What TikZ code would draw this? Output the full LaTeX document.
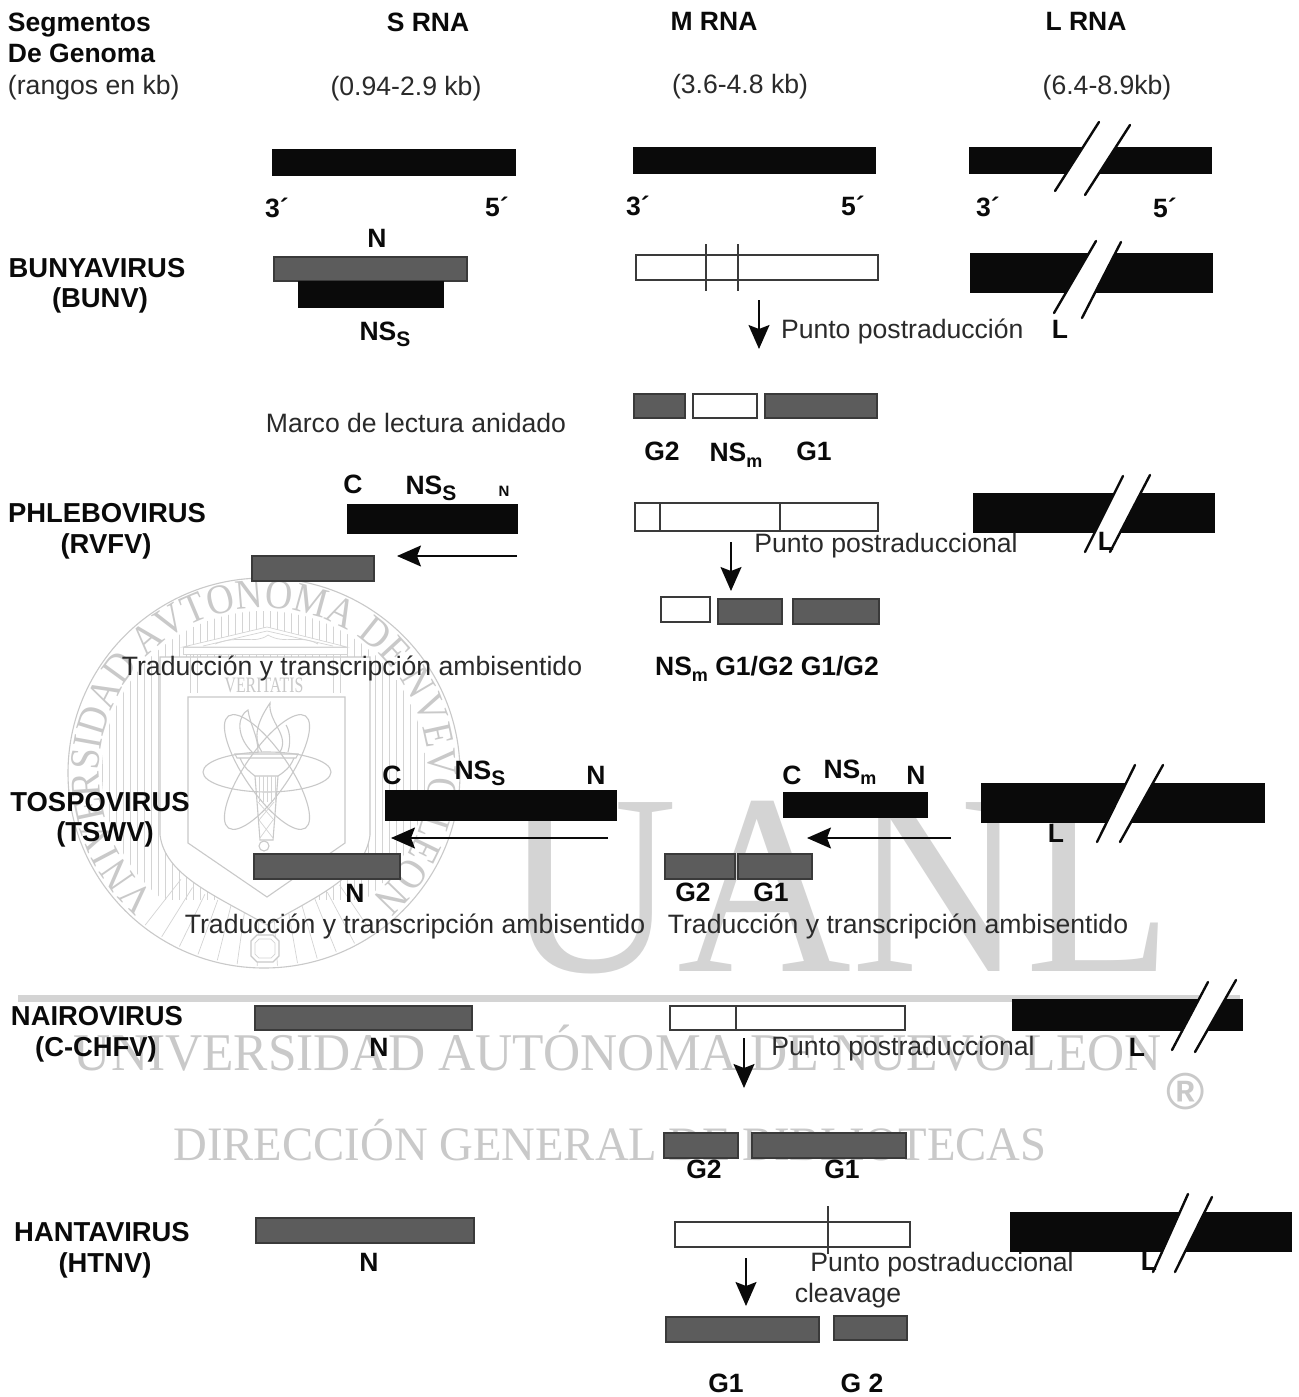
\documentclass[tikz,border=0pt]{standalone}
\usepackage{fontspec}
\setmainfont{Liberation Sans}
\newfontfamily\wmserif{Liberation Serif}
\newfontfamily\wmring[FakeStretch=0.90]{Liberation Serif}
\newfontfamily\wmbig[FakeStretch=0.935]{Liberation Serif}
\newfontfamily\wmuni[FakeStretch=0.97]{Liberation Serif}
\newfontfamily\wmdir[FakeStretch=0.973]{Liberation Serif}
\newfontfamily\wmtall[FakeStretch=0.72]{Liberation Serif}
\usetikzlibrary{arrows.meta,decorations.text}
\definecolor{wmgray}{HTML}{C9C9C9}
\definecolor{wmlight}{HTML}{D4D4D4}
\definecolor{barblack}{HTML}{0A0A0A}
\definecolor{bargray}{HTML}{5C5C5C}
\definecolor{edgegray}{HTML}{3A3A3A}
\definecolor{inkgray}{HTML}{2A2A2A}
\tikzset{
  blackbar/.style={draw=barblack,fill=barblack,line width=0.8pt},
  graybar/.style={draw=edgegray,fill=bargray,line width=1.4pt},
  whitebar/.style={draw=edgegray,fill=white,line width=1.5pt},
  txt/.style={inner sep=0pt,outer sep=0pt,text=inkgray,text height=19pt,text depth=0pt,font=\fontsize{26.6}{30}\selectfont},
  btxt/.style={txt,text=barblack,font=\fontsize{26.5}{30}\selectfont\bfseries},
  vtxt/.style={txt,text=barblack,font=\fontsize{27.4}{30}\selectfont\bfseries},
  arr/.style={draw=barblack,line width=1.6pt,-{Stealth[length=24pt,width=21pt,inset=4pt]}},
  tick/.style={draw=edgegray,line width=1.4pt},
  slash/.style={draw=barblack,line width=2.4pt,line cap=round},
  wmline/.style={draw=wmgray,line width=1.1pt},
  wmthin/.style={draw=wmlight,line width=0.7pt},
  wmtext/.style={inner sep=0pt,outer sep=0pt,text=wmgray},
}
\newcommand{\bx}[6]{\node[#2,inner sep=0pt,outer sep=0pt,anchor=north west,minimum width={(#5-#3)*1pt},minimum height={(#6-#4)*1pt}] (#1) at (#3,#4) {};}
\newcommand{\lab}[4]{\node[txt] (#1) at (#2,#3) {#4};}
\newcommand{\blab}[4]{\node[btxt] (#1) at (#2,#3) {#4};}
\newcommand{\vlab}[4]{\node[vtxt] (#1) at (#2,#3) {#4};}
\newcommand{\leftlab}[5]{\node[#5,anchor=west] (#1) at (#2,#3) {#4};}
% break mark: two parallel strokes with white between
\newcommand{\brk}[8]{\fill[white] (#1,#2) -- (#3,#4) -- (#7,#8) -- (#5,#6) -- cycle;
  \draw[slash] (#1,#2) -- (#3,#4); \draw[slash] (#5,#6) -- (#7,#8);}
\newcommand{\subS}{\raisebox{-6pt}{\fontsize{21}{21}\selectfont S}}
\newcommand{\subm}{\raisebox{-6pt}{\fontsize{18}{18}\selectfont m}}
\begin{document}
\begin{tikzpicture}[x=1pt,y=-1pt]
\useasboundingbox (0,0) rectangle (1298,1397);
\fill[white] (0,0) rectangle (1298,1397);
% ---------- watermark: seal ----------
\begin{scope}
  \clip (102,600) rectangle (428,900);
  \clip (264,773) ellipse [x radius=162,y radius=162];
  \foreach \hx in {102,109,...,430} {\draw[wmthin] (\hx,600) -- (\hx,900);}
\end{scope}
\begin{scope}[shift={(264,773)},y=1pt]
  \foreach \ra in {232,238,...,308} {\draw[wmthin] (\ra:135pt) -- (\ra:193pt);}
\end{scope}
% outer shield
\filldraw[wmline,fill=white] (160,657) -- (370,657) -- (370,835) .. controls (365,875) and (320,895) .. (267,925) .. controls (214,895) and (165,875) .. (160,835) -- cycle;
% inner shield
\filldraw[wmline,fill=white] (188,697) -- (345,697) -- (345,843) -- (267,897) -- (188,843) -- cycle;
\draw[wmline] (264,773) ellipse [x radius=196,y radius=195];
\begin{scope}[shift={(264,773)},y=1pt]
  \path[decorate,decoration={text along path,text align=center,text={|\wmring\fontsize{42}{42}\selectfont\color{wmgray}|VNIVERSIDAD AVTONOMA DE NVEVO LEON}}]
    (236:165pt) arc[start angle=236,end angle=-56,radius=165pt];
\end{scope}
% temple
\filldraw[wmthin,fill=white] (183,647) -- (267,627) -- (347,647) -- cycle;
\draw[wmthin] (203,646) -- (267,631) -- (333,646);
\draw[wmthin] (215,644) .. controls (240,634) and (255,645) .. (268,635) .. controls (285,645) and (300,634) .. (318,644);
\filldraw[wmthin,fill=white] (183,647) rectangle (347,654);
\draw[wmthin] (190,654) -- (190,693); \draw[wmthin] (197,654) -- (197,693);
\draw[wmthin] (333,654) -- (333,693); \draw[wmthin] (340,654) -- (340,693);
\node[wmtext,font=\wmtall\fontsize{22}{22}\selectfont] (wmver) at (264,685) {VERITATIS};
% atom and torch
\foreach \ang/\rx/\ry in {0/64/20,55.5/68/22,-55.5/68/22} {\draw[wmline,rotate around={\ang:(267,772)}] (267,772) ellipse [x radius=\rx,y radius=\ry];}
\draw[wmline] (235,754) -- (298,754) -- (296,758) -- (237,758) -- cycle;
\draw[wmline] (240,758) .. controls (244,768) and (250,772) .. (255,776);
\draw[wmline] (294,758) .. controls (290,768) and (284,772) .. (278,776);
\draw[wmline] (255,776) -- (278,776) -- (273,840) -- (260,840) -- cycle;
\foreach \tx in {259,263,267,271,275} {\draw[wmthin] (\tx,776) -- (\tx,802);}
\draw[wmthin] (258,802) -- (274,820); \draw[wmthin] (274,802) -- (259,820);
\draw[wmthin] (259,820) -- (273,838); \draw[wmthin] (273,820) -- (260,838);
\draw[wmline] (264,846) circle [radius=5];
\draw[wmline] (262,752) .. controls (250,735) and (262,715) .. (270,703) .. controls (268,722) and (290,735) .. (280,752);
\draw[wmline] (252,752) .. controls (235,735) and (238,715) .. (248,710) .. controls (250,725) and (258,735) .. (258,752);
\draw[wmline] (288,752) .. controls (292,738) and (288,728) .. (286,725);
% octagon
\filldraw[wmline,fill=white] (257,935) -- (273,935) -- (279,941) -- (279,956) -- (273,962) -- (257,962) -- (251,956) -- (251,941) -- cycle;
\draw[wmthin] (259,939) -- (271,939) -- (275,943) -- (275,954) -- (271,958) -- (259,958) -- (255,954) -- (255,943) -- cycle;
% ---------- watermark: big letters ----------
\node[wmtext,text=wmlight,font=\wmbig\fontsize{258}{258}\selectfont,anchor=base] (wmuanl) at (838,971) {UANL};
\draw[draw=wmlight,line width=7pt] (18,998) -- (1240,998);
\node[wmtext,font=\wmuni\fontsize{53}{53}\selectfont,anchor=base] (wmunil) at (618,1070) {UNIVERSIDAD AUTÓNOMA DE NUEVO LEON};
\node[wmtext,font=\wmdir\fontsize{48}{48}\selectfont,anchor=base] (wmdirl) at (610,1160) {DIRECCIÓN GENERAL DE BIBLIOTECAS};
\node[wmtext,font=\fontsize{52}{52}\selectfont\bfseries] (wmreg) at (1186,1092) {®};

% ---------- headers ----------
\leftlab{h1}{8}{22}{Segmentos}{btxt}
\leftlab{h2}{8}{53}{De Genoma}{btxt}
\leftlab{h3}{8}{85}{(rangos en kb)}{txt}
\blab{hs}{428}{22}{S RNA}
\blab{hm}{714}{21}{M RNA}
\blab{hl}{1086}{21}{L RNA}
\lab{rs}{406}{86}{(0.94-2.9 kb)}
\lab{rm}{740}{84}{(3.6-4.8 kb)}
\lab{rl}{1107}{85}{(6.4-8.9kb)}
% ---------- genome bars ----------
\bx{gs}{blackbar}{272}{149}{515}{175}
\bx{gm}{blackbar}{633}{147}{875}{173}
\bx{gl}{blackbar}{969}{147}{1211}{173}
\brk{1055}{191}{1099}{122}{1085}{195}{1130}{125}
\blab{e1}{277}{208}{3´}
\blab{e2}{497}{207}{5´}
\blab{e3}{638}{206}{3´}
\blab{e4}{853}{206}{5´}
\blab{e5}{988}{207}{3´}
\blab{e6}{1165}{208}{5´}
% ---------- Bunyavirus ----------
\vlab{bu1}{97}{268}{BUNYAVIRUS}
\vlab{bu2}{100}{298}{(BUNV)}
\blab{buN}{377}{238}{N}
\bx{bun}{graybar}{274}{257}{467}{281}
\bx{bus}{blackbar}{298}{281}{443}{307}
\blab{buNS}{385}{331}{NS\subS}
\bx{bum}{whitebar}{636}{255}{878}{280}
\draw[tick] (706,244) -- (706,291);
\draw[tick] (738,244) -- (738,291);
\bx{bul}{blackbar}{970}{253}{1212}{292}
\brk{1054}{313}{1096}{241}{1082}{318}{1121}{242}
\coordinate (buaS) at (759,300); \coordinate (buaE) at (759,349);
\draw[arr] (buaS) -- (buaE);
\leftlab{buP}{781}{329}{Punto postraducción}{txt}
\blab{buL}{1060}{329}{L}
\bx{bug2}{graybar}{634}{394}{685}{418}
\bx{bunm}{whitebar}{693}{394}{757}{418}
\bx{bug1}{graybar}{765}{394}{877}{418}
\lab{marco}{416}{423}{Marco de lectura anidado}
\blab{bul2}{662}{451}{G2}
\blab{bul3}{736}{452}{NS\subm}
\blab{bul1}{814}{451}{G1}
% ---------- Phlebovirus ----------
\vlab{ph1}{107}{513}{PHLEBOVIRUS}
\vlab{ph2}{106}{544}{(RVFV)}
\blab{phC}{353}{484}{C}
\blab{phNS}{431}{485}{NS\subS}
\node[btxt,font=\fontsize{15}{15}\selectfont\bfseries,text height=11pt] (phN) at (504,491) {N};
\bx{phs}{blackbar}{347}{504}{517}{533}
\bx{phg}{graybar}{252}{556}{374}{581}
\coordinate (phaS) at (517,556); \coordinate (phaE) at (397,556);
\draw[arr] (phaS) -- (phaE);
\bx{phm}{whitebar}{635}{503}{878}{531}
\draw[tick] (660,503) -- (660,531);
\draw[tick] (780,503) -- (780,531);
\bx{phl}{blackbar}{973}{493}{1214}{532}
\brk{1085}{552}{1123}{476}{1110}{552}{1150}{475}
\blab{phL}{1106}{541}{L}
\lab{phP}{886}{543}{Punto postraduccional}
\coordinate (phbS) at (731,542); \coordinate (phbE) at (731,591);
\draw[arr] (phbS) -- (phbE);
\bx{phw}{whitebar}{661}{597}{710}{622}
\bx{phg1}{graybar}{718}{599}{782}{624}
\bx{phg2}{graybar}{793}{599}{879}{624}
\lab{phT}{352}{666}{Traducción y transcripción ambisentido}
\blab{phB}{767}{666}{NS\subm{} G1/G2 G1/G2}
% ---------- Tospovirus ----------
\vlab{to1}{100}{802}{TOSPOVIRUS}
\vlab{to2}{105}{832}{(TSWV)}
\blab{toC}{392}{775}{C}
\blab{toNS}{480}{770}{NS\subS}
\blab{toN}{596}{775}{N}
\bx{tos}{blackbar}{385}{790}{616}{820}
\coordinate (toaS) at (608,838); \coordinate (toaE) at (391,838);
\draw[arr] (toaS) -- (toaE);
\bx{tog}{graybar}{254}{854}{400}{879}
\blab{toN2}{355}{893}{N}
\blab{toC2}{792}{775}{C}
\blab{toNS2}{850}{769}{NS\subm}
\blab{toN3}{916}{775}{N}
\bx{tom}{blackbar}{783}{792}{927}{817}
\coordinate (tobS) at (951,838); \coordinate (tobE) at (807,838);
\draw[arr] (tobS) -- (tobE);
\bx{tog2}{graybar}{665}{854}{735}{879}
\bx{tog1}{graybar}{738}{854}{812}{879}
\blab{toG2}{693}{892}{G2}
\blab{toG1}{771}{892}{G1}
\bx{tol}{blackbar}{981}{783}{1264}{822}
\brk{1097}{842}{1135}{765}{1120}{842}{1163}{765}
\blab{toL}{1056}{833}{L}
\lab{toT1}{415}{924}{Traducción y transcripción ambisentido}
\lab{toT2}{898}{924}{Traducción y transcripción ambisentido}
% ---------- Nairovirus ----------
\vlab{na1}{97}{1016}{NAIROVIRUS}
\vlab{na2}{96}{1047}{(C-CHFV)}
\bx{nag}{graybar}{255}{1006}{472}{1030}
\blab{naN}{379}{1047}{N}
\bx{nam}{whitebar}{670}{1006}{905}{1030}
\draw[tick] (736,1006) -- (736,1030);
\bx{nal}{blackbar}{1012}{999}{1242}{1030}
\brk{1172}{1050}{1208}{982}{1195}{1052}{1236}{980}
\lab{naP}{903}{1046}{Punto postraduccional}
\blab{naL}{1137}{1047}{L}
\coordinate (naaS) at (744,1038); \coordinate (naaE) at (744,1088);
\draw[arr] (naaS) -- (naaE);
\bx{nag2}{graybar}{664}{1133}{738}{1158}
\bx{nag1}{graybar}{752}{1133}{906}{1158}
\blab{naG2}{704}{1169}{G2}
\blab{naG1}{842}{1169}{G1}
% ---------- Hantavirus ----------
\vlab{ha1}{102}{1232}{HANTAVIRUS}
\vlab{ha2}{105}{1263}{(HTNV)}
\bx{hag}{graybar}{256}{1218}{474}{1243}
\blab{haN}{369}{1262}{N}
\bx{ham}{whitebar}{675}{1222}{910}{1247}
\draw[tick] (828,1206) -- (828,1254);
\bx{hal}{blackbar}{1010}{1212}{1291}{1251}
\brk{1153}{1272}{1188}{1194}{1175}{1272}{1212}{1197}
\blab{haL}{1149}{1261}{L}
\lab{haP}{942}{1262}{Punto postraduccional}
\lab{haC}{848}{1293}{cleavage}
\coordinate (haaS) at (746,1258); \coordinate (haaE) at (746,1306);
\draw[arr] (haaS) -- (haaE);
\bx{hag1}{graybar}{666}{1317}{819}{1342}
\bx{hag2}{graybar}{834}{1316}{907}{1340}
\blab{haG1}{726}{1383}{G1}
\blab{haG2}{862}{1383}{G 2}
\end{tikzpicture}
\end{document}
